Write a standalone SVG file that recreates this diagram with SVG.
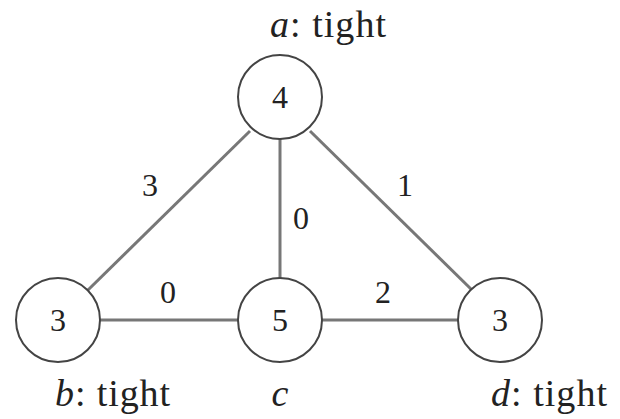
<svg xmlns="http://www.w3.org/2000/svg" width="620" height="419" viewBox="0 0 620 419">
<style>
.t{font-family:"Liberation Serif","Times New Roman",serif;font-size:32px;fill:#222}
.l{font-size:38px}
.i{font-style:italic}
.c{fill:#fff;stroke:#444;stroke-width:2}
.e{stroke:#777;stroke-width:3;fill:none}
</style>
<rect width="620" height="419" fill="#fff"/>
<g id="edges">
<line class="e" x1="250" y1="131" x2="88" y2="290"/>
<line class="e" x1="310" y1="131" x2="472" y2="290"/>
<line class="e" x1="280" y1="139" x2="280" y2="278"/>
<line class="e" x1="100" y1="320" x2="238" y2="320"/>
<line class="e" x1="322" y1="320" x2="458" y2="320"/>
<text class="t" x="150" y="196" text-anchor="middle">3</text>
<text class="t" x="405" y="196" text-anchor="middle">1</text>
<text class="t" x="301" y="229" text-anchor="middle">0</text>
<text class="t" x="168" y="303" text-anchor="middle">0</text>
<text class="t" x="383" y="303" text-anchor="middle">2</text>
</g>
<g id="a">
<circle class="c" cx="280" cy="97" r="42"/>
<text class="t" x="280" y="108" text-anchor="middle">4</text>
<text class="t l" x="270" y="37" textLength="116" lengthAdjust="spacing"><tspan class="i">a</tspan>: tight</text>
</g>
<g id="b">
<circle class="c" cx="58" cy="320" r="42"/>
<text class="t" x="58" y="331" text-anchor="middle">3</text>
<text class="t l" x="55" y="406" textLength="115" lengthAdjust="spacing"><tspan class="i">b</tspan>: tight</text>
</g>
<g id="c">
<circle class="c" cx="280" cy="320" r="42"/>
<text class="t" x="280" y="331" text-anchor="middle">5</text>
<text class="t l i" x="280" y="406" text-anchor="middle">c</text>
</g>
<g id="d">
<circle class="c" cx="500" cy="320" r="42"/>
<text class="t" x="500" y="331" text-anchor="middle">3</text>
<text class="t l" x="491" y="406" textLength="116" lengthAdjust="spacing"><tspan class="i">d</tspan>: tight</text>
</g>
</svg>
